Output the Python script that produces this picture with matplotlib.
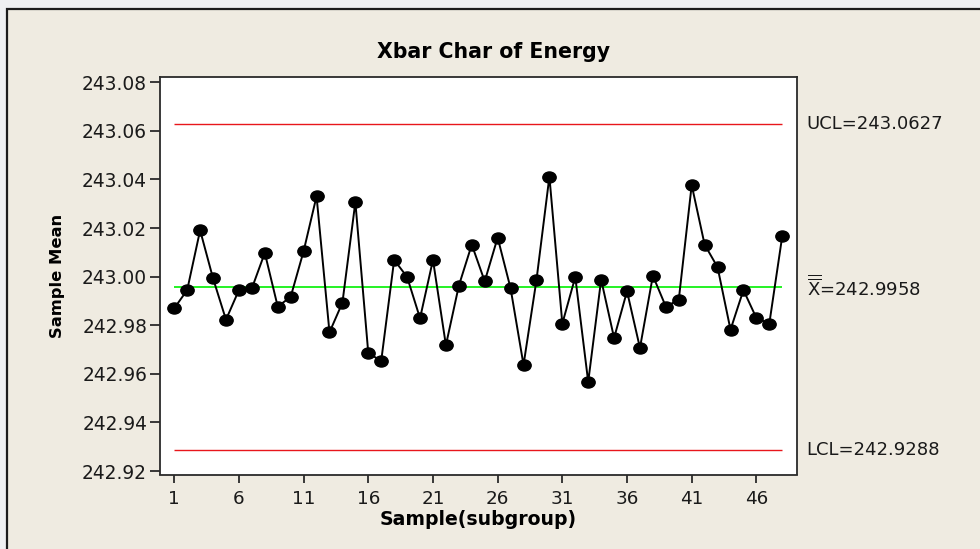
import numpy as np
import matplotlib
matplotlib.use("Agg")
import matplotlib.pyplot as plt
from matplotlib.patches import Rectangle
from matplotlib.path import Path
from matplotlib.transforms import Affine2D

# subgroup means
samples = list(range(1, 49))
means = [
    242.9870, 242.9945, 243.0191, 242.9993, 242.9823, 242.9945, 242.9952, 243.0098,
    242.9877, 242.9917, 243.0105, 243.0331, 242.9771, 242.9893, 243.0307, 242.9685,
    242.9654, 243.0069, 242.9999, 242.9829, 243.0069, 242.9718, 242.9963, 243.0132,
    242.9981, 243.0161, 242.9952, 242.9637, 242.9986, 243.0412, 242.9807, 242.9999,
    242.9567, 242.9988, 242.9748, 242.9940, 242.9707, 243.0004, 242.9877, 242.9905,
    243.0377, 243.0132, 243.0039, 242.9782, 242.9945, 242.9830, 242.9807, 243.0167,
]
ucl = 243.0627
center = 242.9958
lcl = 242.9288
x_ticks = [1, 6, 11, 16, 21, 26, 31, 36, 41, 46]
y_ticks = [242.92, 242.94, 242.96, 242.98, 243.00, 243.02, 243.04, 243.06, 243.08]

plt.rcParams['font.family'] = ['DejaVu Sans']
plt.rcParams['mathtext.fontset'] = 'dejavusans'

fig = plt.figure(figsize=(9.8, 5.49), dpi=100)
fig.patch.set_facecolor('#EFF0F2')

# beige panel with dark frame
panel = Rectangle((7 / 980, -0.05), 1.1, (549 - 9) / 549 + 0.05,
                  transform=fig.transFigure, facecolor='#EFEBE1',
                  edgecolor='#1c1c1c', linewidth=1.6, zorder=-1)
fig.patches.append(panel)

ax = fig.add_axes([159.5 / 980, 74.5 / 549, 637.5 / 980, 397.8 / 549])
ax.set_facecolor('white')

# slightly flattened dot, like the Minitab symbol
ellipse = Path.unit_circle().transformed(Affine2D().scale(1.0, 0.83))

ax.hlines([ucl, lcl], samples[0], samples[-1], colors='#E8161B', linewidth=1.0)
ax.hlines(center, samples[0], samples[-1], colors='#00F000', linewidth=1.2)
ax.plot(samples, means, color='black', linewidth=1.4, marker=ellipse,
        markersize=9.6, markerfacecolor='black', markeredgecolor='black')

ax.set_xlim(-0.14, 49.14)
ax.set_ylim(242.9186, 243.0823)
ax.set_xticks(x_ticks)
ax.set_yticks(y_ticks)
ax.set_yticklabels([f"{v:.2f}" for v in y_ticks])
ax.tick_params(axis='y', direction='out', length=7.5, width=1.2, pad=1.5,
               labelsize=13.4, colors='#1a1a1a')
ax.tick_params(axis='x', direction='out', length=6, width=1.2, pad=5,
               labelsize=13.2, colors='#1a1a1a')
for s in ax.spines.values():
    s.set_color('#2a2a2a')
    s.set_linewidth(1.3)

ax.set_xlabel("Sample(subgroup)", fontsize=13.6, fontweight='bold', labelpad=1.5)
ax.set_ylabel("Sample Mean", fontsize=11.8, fontweight='bold', labelpad=12)
fig.text(494 / 980, 1 - 52 / 549, "Xbar Char of Energy", ha='center', va='center',
         fontsize=14.8, fontweight='bold')

lab_kw = dict(transform=ax.get_yaxis_transform(), ha='left', va='center',
              fontsize=13, color='#1a1a1a', clip_on=False)
ax.text(1.015, ucl, f"UCL={ucl:.4f}", **lab_kw)
ax.text(1.015, center, r"$\overline{\overline{\mathrm{X}}}$" + f"={center:.4f}", **lab_kw)
ax.text(1.015, lcl, f"LCL={lcl:.4f}", **lab_kw)

fig.savefig("out.png", dpi=100)
